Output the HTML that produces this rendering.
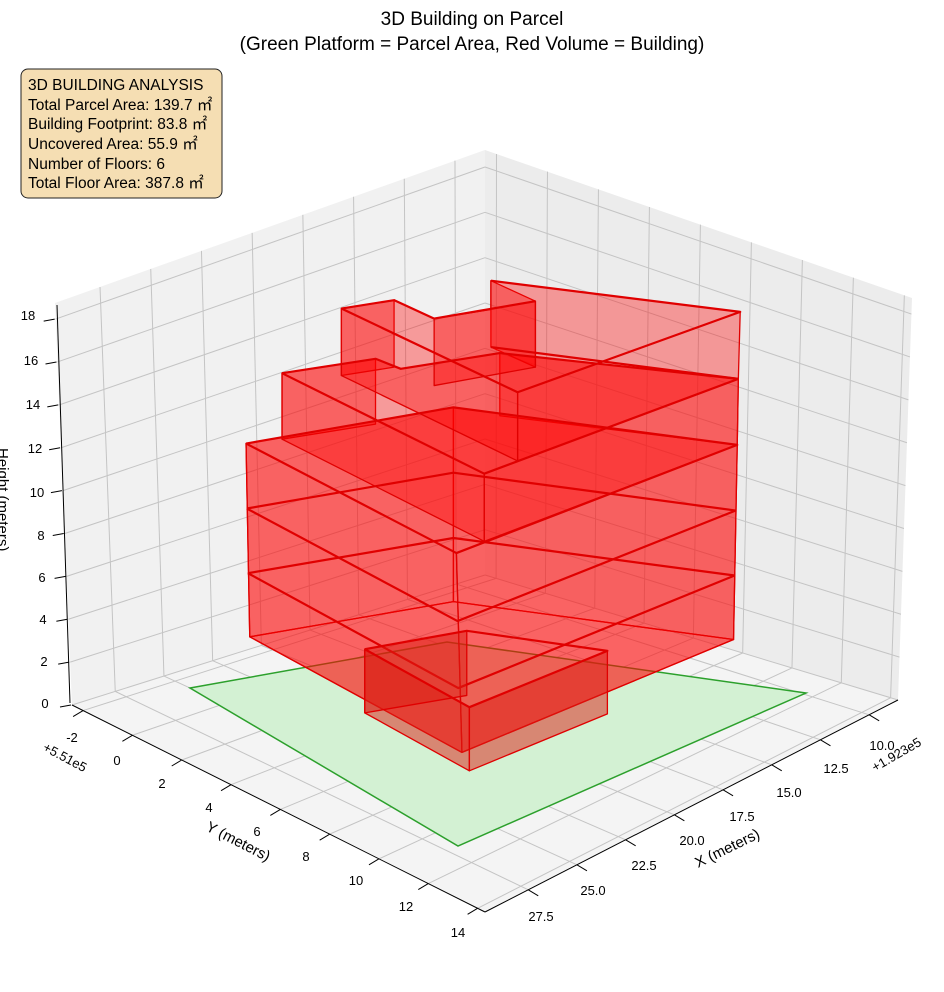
<!DOCTYPE html>
<html><head><meta charset="utf-8">
<style>
html,body{margin:0;padding:0;background:#fff;}
svg{display:block;font-family:"Liberation Sans",sans-serif;}
.t{font-size:13px;fill:#000;}
</style></head>
<body>
<svg id="s" width="944" height="992" viewBox="0 0 944 992" xmlns="http://www.w3.org/2000/svg">
<rect width="944" height="992" fill="#fff"/>
<g id="panes"></g>
<g id="grid" stroke="#c4c4c4" stroke-width="1" fill="none"></g>
<polygon points="190,688 447,642 806,693 458,846" fill="#d3f1d3" stroke="#2ca02c" stroke-width="1.5"/>
<g transform="translate(180,270) scale(0.371,0.335)" stroke="#e00000" stroke-linejoin="round">
 <g fill="rgba(255,0,0,0.36)" stroke-width="1.3">
  <polygon vector-effect="non-scaling-stroke" points="178,518 737,410 737,990 188,1095"/>
  <polygon vector-effect="non-scaling-stroke" points="737,410 1502,522 1492,1103 737,990"/>
  <polygon vector-effect="non-scaling-stroke" points="188,1095 737,990 1492,1103 760,1440"/>
  <polygon vector-effect="non-scaling-stroke" points="178,518 745,845 760,1440 188,1095"/>
  <polygon vector-effect="non-scaling-stroke" points="745,845 1502,522 1492,1103 760,1440"/>
  <polygon vector-effect="non-scaling-stroke" points="178,518 737,410 1502,522 745,845"/>
  <polygon vector-effect="non-scaling-stroke" points="275,308 527,265 527,460 275,505"/>
  <polygon vector-effect="non-scaling-stroke" points="862,248 1505,325 1502,522 862,435"/>
  <polygon vector-effect="non-scaling-stroke" points="275,308 820,608 820,810 275,505"/>
  <polygon vector-effect="non-scaling-stroke" points="820,608 1505,325 1502,522 820,810"/>
  <polygon vector-effect="non-scaling-stroke" points="275,308 527,265 595,295 862,248 1505,325 820,608"/>
  <polygon vector-effect="non-scaling-stroke" points="838,32 838,230 958,290 958,93"/>
  <polygon vector-effect="non-scaling-stroke" points="435,115 577,90 577,290 435,315"/>
  <polygon vector-effect="non-scaling-stroke" points="435,115 910,365 910,570 435,315"/>
  <polygon vector-effect="non-scaling-stroke" points="910,365 1510,125 1505,325 910,570"/>
  <polygon vector-effect="non-scaling-stroke" points="435,115 577,90 685,145 838,118 838,32 1510,125 910,365"/>
  <polygon vector-effect="non-scaling-stroke" points="685,145 685,345 958,290 958,93"/>
 </g>
 <g fill="none" stroke-width="2.2">
  <polyline vector-effect="non-scaling-stroke" points="180,712 737,605 1498,718"/>
  <polyline vector-effect="non-scaling-stroke" points="180,712 748,1048 1498,718"/>
  <polyline vector-effect="non-scaling-stroke" points="183,905 737,800 1495,912"/>
  <polyline vector-effect="non-scaling-stroke" points="183,905 750,1248 1495,912"/>
  <polyline vector-effect="non-scaling-stroke" points="178,518 745,845 1502,522 737,410 178,518"/>
  <polyline vector-effect="non-scaling-stroke" points="275,308 820,608 1505,325"/>
  <polyline vector-effect="non-scaling-stroke" points="275,308 527,265 595,295 862,248 1505,325"/>
  <polyline vector-effect="non-scaling-stroke" points="435,115 910,365 1510,125 838,32"/>
  <polyline vector-effect="non-scaling-stroke" points="435,115 577,90 685,145 958,93"/>
  <polyline vector-effect="non-scaling-stroke" points="838,230 1505,325"/>
 </g>
 <g fill="rgba(220,30,20,0.5)" stroke-width="1.3">
  <polygon vector-effect="non-scaling-stroke" points="498,1132 780,1305 780,1495 498,1322"/>
  <polygon vector-effect="non-scaling-stroke" points="780,1305 1152,1137 1152,1325 780,1495"/>
  <polygon vector-effect="non-scaling-stroke" points="498,1132 773,1077 773,1270 498,1322"/>
 </g>
 <polyline fill="none" stroke-width="2.2" vector-effect="non-scaling-stroke" points="498,1132 773,1077 1152,1137 780,1305 498,1132"/>
</g>
<g stroke="#000" stroke-width="1" fill="none">
 <line x1="70" y1="703" x2="57" y2="305"/>
 <line x1="72" y1="705" x2="485" y2="912"/>
 <line x1="485" y1="912" x2="898" y2="700"/>
</g>
<g id="ticks" stroke="#000" stroke-width="1"></g>
<g class="t" text-anchor="middle">
<text x="45" y="708">0</text><text x="44" y="666">2</text><text x="43" y="624">4</text><text x="42" y="582">6</text><text x="41" y="540">8</text><text x="37" y="497">10</text><text x="35" y="453">12</text><text x="33" y="409">14</text><text x="31" y="365">16</text><text x="28" y="320">18</text>
<text x="72" y="742">-2</text><text x="117" y="765">0</text><text x="162" y="788">2</text><text x="209" y="812">4</text><text x="257" y="836">6</text><text x="306" y="861">8</text><text x="356" y="885">10</text><text x="406" y="911">12</text><text x="458" y="937">14</text>
<text x="882" y="750">10.0</text><text x="836" y="773">12.5</text><text x="789" y="797">15.0</text><text x="742" y="821">17.5</text><text x="692" y="845">20.0</text><text x="644" y="870">22.5</text><text x="593" y="895">25.0</text><text x="541" y="921">27.5</text>
</g>
<text class="t" transform="translate(42,750) rotate(28)">+5.51e5</text>
<text class="t" transform="translate(875,772) rotate(-30)">+1.923e5</text>
<text transform="translate(205,830) rotate(27)" font-size="15">Y (meters)</text>
<text transform="translate(698,868) rotate(-26)" font-size="15">X (meters)</text>
<text transform="translate(-2,448) rotate(90)" font-size="15">Height (meters)</text>
<text x="472" y="25" text-anchor="middle" font-size="19">3D Building on Parcel</text>
<text x="472" y="50" text-anchor="middle" font-size="19">(Green Platform = Parcel Area, Red Volume = Building)</text>
<rect x="21" y="69" width="201" height="129" rx="7" fill="#f5deb3" stroke="#222" stroke-width="1"/>
<g font-size="15.5" fill="#000">
<text x="28" y="90">3D BUILDING ANALYSIS</text>
<text x="28" y="110">Total Parcel Area: 139.7 ㎡</text>
<text x="28" y="129">Building Footprint: 83.8 ㎡</text>
<text x="28" y="149">Uncovered Area: 55.9 ㎡</text>
<text x="28" y="169">Number of Floors: 6</text>
<text x="28" y="188">Total Floor Area: 387.8 ㎡</text>
</g>
</svg>
<script>
(function(){
var NS="http://www.w3.org/2000/svg";
var L=[72,705],Fr=[485,912],R=[898,700],Bk=[485,575],BT=[485,150],LT=[55,303],RT=[912,298];
function lerp(a,b,t){return [a[0]+(b[0]-a[0])*t,a[1]+(b[1]-a[1])*t];}
function P(u,v){var a=lerp(Bk,R,u),b=lerp(L,Fr,u);return lerp(a,b,v);}
function poly(g,pts,fill){var p=document.createElementNS(NS,"polygon");p.setAttribute("points",pts.map(function(q){return q.join(",")}).join(" "));p.setAttribute("fill",fill);g.appendChild(p);}
function line(g,a,b){var l=document.createElementNS(NS,"line");l.setAttribute("x1",a[0]);l.setAttribute("y1",a[1]);l.setAttribute("x2",b[0]);l.setAttribute("y2",b[1]);g.appendChild(l);}
var pn=document.getElementById("panes"),gr=document.getElementById("grid"),tk=document.getElementById("ticks");
poly(pn,[LT,BT,Bk,L],"#f1f1f1");
poly(pn,[BT,RT,R,Bk],"#ececec");
poly(pn,[L,Bk,R,Fr],"#f4f4f4");
function wz(z){return z/18.75;}
for(var z=0;z<=18;z+=2){var w=wz(z);
 var a=lerp(L,LT,w),b=lerp(Bk,BT,w),c=lerp(R,RT,w);line(gr,a,b);line(gr,b,c);
 var t=lerp(L,LT,w);line(tk,[t[0]-1,t[1]],[t[0]-12,t[1]+2]);}
function uy(y){return (y+2.45)/16.75;}
function vx(x){return (x-8.52)/21.2;}
for(var y=-2;y<=14;y+=2){var u=uy(y);
 var b0=P(u,0),top=lerp(BT,RT,u);line(gr,b0,top);line(gr,b0,P(u,1));
 var e=P(u,1);line(tk,e,[e[0]-10,e[1]+6]);}
for(var x=10;x<=27.5;x+=2.5){var v=vx(x);
 var b0=P(0,v),top=lerp(BT,LT,v);line(gr,b0,top);line(gr,b0,P(1,v));
 var e=P(1,v);line(tk,e,[e[0]+10,e[1]+6]);}
})();
</script>
</body></html>
